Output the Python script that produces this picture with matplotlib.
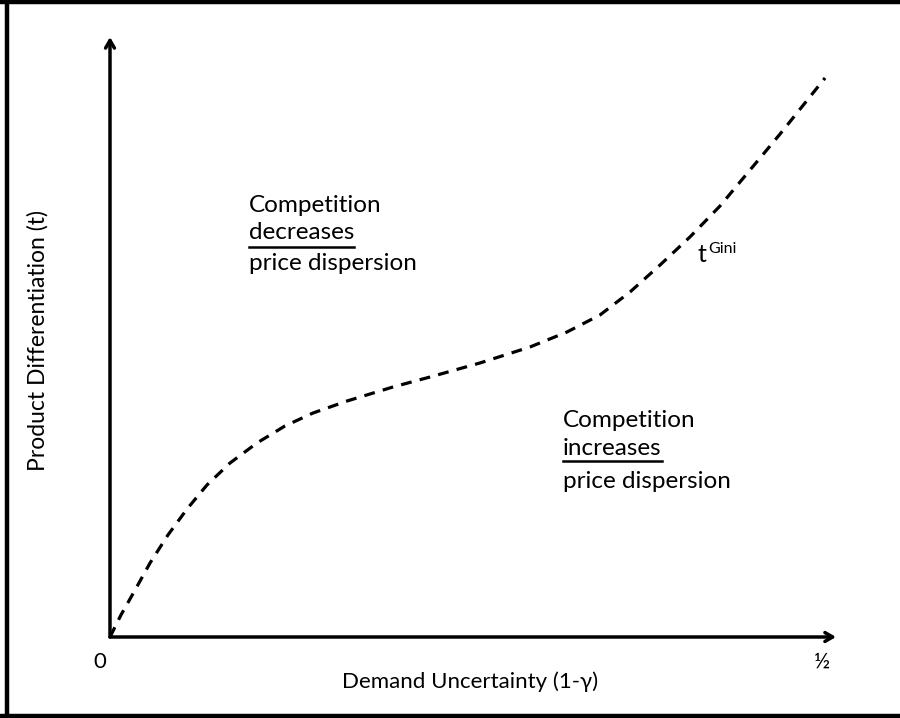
import matplotlib
matplotlib.use("Agg")
import matplotlib.pyplot as plt
from matplotlib.lines import Line2D
from matplotlib.transforms import offset_copy

# Curve t^Gini (demand uncertainty vs product differentiation)
x_vals = [0.0, 0.0077, 0.0176, 0.0281, 0.0407, 0.0541, 0.0681, 0.0843, 0.1032,
          0.1229, 0.1426, 0.1665, 0.1988, 0.2248, 0.2599, 0.2950, 0.3210, 0.3442,
          0.3653, 0.3864, 0.4074, 0.4285, 0.4496, 0.4707, 0.4882, 0.5023]
t_vals = [0.0, 0.0367, 0.0783, 0.1233, 0.17, 0.2133, 0.2533, 0.29, 0.3233,
          0.3517, 0.3733, 0.3933, 0.4167, 0.4333, 0.4567, 0.4833, 0.5083, 0.5367,
          0.575, 0.62, 0.6667, 0.7183, 0.7783, 0.8383, 0.89, 0.9317]

x_tick_labels = ["0", "½"]
x_tick_pos = [0.0, 0.5]
x_label = "Demand Uncertainty (1-γ)"
y_label = "Product Differentiation (t)"
upper_text = ["Competition", "decreases", "price dispersion"]
lower_text = ["Competition", "increases", "price dispersion"]

W, H = 900, 718
fig = plt.figure(figsize=(9, 7.18), dpi=100)
FONT = "Lato"
plt.rcParams['font.family'] = [FONT, 'DejaVu Sans']

ax = fig.add_axes([110 / W, (H - 637) / H, 726 / W, 600 / H])
ax.set_xlim(0, 0.51)
ax.set_ylim(0, 1)
ax.axis("off")

# frame lines
for xs, ys in [([7 / W, 7 / W], [0, 1]), ([0, 1], [1 - 2 / H, 1 - 2 / H]), ([0, 1], [2 / H, 2 / H])]:
    fig.add_artist(Line2D(xs, ys, transform=fig.transFigure, color="black", lw=3.2))

# axes arrows
arrow_style = dict(arrowstyle="->,head_length=0.55,head_width=0.32", lw=2.5, color="black",
                   shrinkA=0, shrinkB=0)
ax.annotate("", xy=(0.51, 0), xytext=(0, 0), annotation_clip=False, arrowprops=arrow_style)
ax.annotate("", xy=(0, 1.0), xytext=(0, 0), annotation_clip=False, arrowprops=arrow_style)

# curve
ax.plot(x_vals, t_vals, color="black", lw=2.3, linestyle=(0, (3.4, 2.6)), clip_on=False)

# tick labels
tick_shift_px = [-10, 0]
for p, lab, sh in zip(x_tick_pos, x_tick_labels, tick_shift_px):
    tr = offset_copy(ax.transData, fig=fig, x=sh, y=-25, units="dots")
    ax.text(p, 0, lab, ha="center", va="center", fontsize=16, clip_on=False, transform=tr)

fig.text(470 / W, 1 - 682 / H, x_label, ha="center", va="center", fontsize=16)
fig.text(38 / W, 1 - 341 / H, y_label, ha="center", va="center", fontsize=16.5, rotation=90)

# region texts
def block(lines, x0, baselines, underline_y):
    for i, (s, yb) in enumerate(zip(lines, baselines)):
        t = fig.text(x0 / W, 1 - yb / H, s, ha="left", va="baseline", fontsize=17.5)
        if i == 1:
            fig.canvas.draw()
            bb = t.get_window_extent()
            fig.add_artist(Line2D([bb.x0 / W, bb.x1 / W], [1 - underline_y / H, 1 - underline_y / H],
                                  transform=fig.transFigure, color="black", lw=1.8))

block(upper_text, 249, [212, 239, 270], 247)
block(lower_text, 563, [427, 455, 488], 461)

# t^Gini label
fig.text(697 / W, 1 - 262 / H, "t", ha="left", va="baseline", fontsize=18)
fig.text(708 / W, 1 - 253 / H, "Gini", ha="left", va="baseline", fontsize=11.5)

fig.savefig("out.png", dpi=100)
